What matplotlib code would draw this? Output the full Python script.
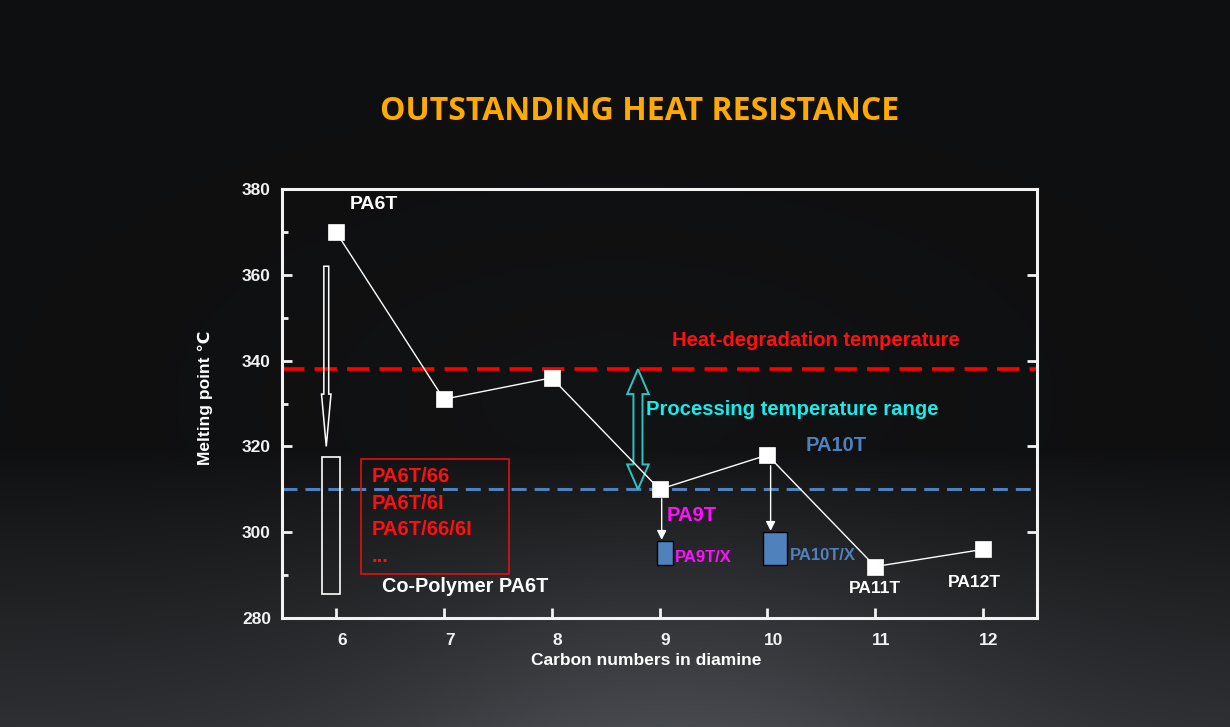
import numpy as np
import matplotlib
matplotlib.use("Agg")
import matplotlib.pyplot as plt
import matplotlib.transforms as mtransforms
from matplotlib.patches import Rectangle, Polygon, FancyArrow

plt.rcParams['font.family'] = ['Liberation Sans', 'DejaVu Sans']

# ---------- data ----------
carbons = [6, 7, 8, 9, 10, 11, 12]
melting = [370, 331, 336, 310, 318, 292, 296]
heat_degradation = 338
processing_low = 310

copolymer_names = ['PA6T/66', 'PA6T/6I', 'PA6T/66/6I', '...']
copolymer_range = (285.5, 317.5)      # co-polymer PA6T melting range
pa6t_drop = (362, 320)                # hollow arrow PA6T -> co-polymers

# modified grades (x, low, high)
pa9tx = (9.05, 292.4, 298.0)
pa10tx = (10.07, 292.4, 300.0)

# ---------- figure + background ----------
fig = plt.figure(figsize=(12.3, 7.27), dpi=100)

H, W = 727, 1230
yy, xx = np.mgrid[0:1:H * 1j, 0:1:W * 1j]
v = 0.058 + 0.012 * np.exp(-((xx - 0.5) / 0.3) ** 2) * np.exp(-((yy - 0.55) / 0.25) ** 2)
floor = np.clip((yy - 0.62) / 0.38, 0, 1)
v += floor ** 0.9 * (0.12 + 0.10 * np.exp(-((xx - 0.55) / 0.25) ** 2))
rgb = np.clip(np.dstack([v, v * 1.03, v * 1.1]), 0, 1)
bg = fig.add_axes([0, 0, 1, 1], zorder=-1)
bg.imshow(rgb, aspect='auto', extent=[0, 1, 0, 1])
bg.axis('off')

fig.text(0.52, 0.847, 'OUTSTANDING HEAT RESISTANCE', color='#ffaa00',
         fontsize=23, fontweight='bold', family=['Open Sans', 'DejaVu Sans'],
         ha='center', va='center')

# ---------- main axes ----------
ax = fig.add_axes([0.2293, 0.1499, 0.6138, 0.5901])
ax.set_facecolor('none')
ax.set_xlim(5.5, 12.5)
ax.set_ylim(280, 380)

for s in ax.spines.values():
    s.set_color('#f2f2f2')
    s.set_linewidth(2.2)

ax.set_xticks(carbons)
ax.set_yticks(range(280, 381, 20))
ax.set_yticks(range(290, 380, 20), minor=True)
ax.tick_params(axis='y', which='major', direction='in', right=True, colors='#f2f2f2',
               width=2, length=7, labelsize=12.5, pad=8)
ax.tick_params(axis='y', which='minor', direction='in', left=True, right=False,
               colors='#f2f2f2', width=2, length=4)
ax.tick_params(axis='x', direction='in', length=7, width=2, colors='#f2f2f2', labelsize=12.5, pad=11)
shift = mtransforms.ScaledTranslation(0.06, 0, fig.dpi_scale_trans)
for lab in ax.get_xticklabels():
    lab.set_fontweight('bold')
    lab.set_transform(lab.get_transform() + shift)
for lab in ax.get_yticklabels():
    lab.set_fontweight('bold')

ax.text(0.482, -0.1, 'Carbon numbers in diamine', transform=ax.transAxes, color='white',
        fontsize=12.5, fontweight='bold', ha='center', va='center')
ax.text(-0.102, 0.513, 'Melting point ℃', transform=ax.transAxes, color='white',
        fontsize=12.5, fontweight='bold', ha='center', va='center', rotation=90)

# reference lines
ax.axhline(heat_degradation, color='#ff0000', lw=2.6, dashes=(6.2, 2.8), zorder=2)
ax.axhline(processing_low, color='#4f81bd', lw=2.2, dashes=(4.9, 2.6), zorder=2)

# main series
ax.plot(carbons, melting, color='white', lw=1.0, marker='s', ms=11.5,
        mfc='white', mec='white', mew=0.5, zorder=5)

# co-polymer PA6T
ax.add_patch(FancyArrow(5.91, pa6t_drop[0], 0, pa6t_drop[1] - pa6t_drop[0],
                        width=0.045, head_width=0.088, head_length=12.2,
                        length_includes_head=True, fill=False, ec='white', lw=1.1, zorder=4))
ax.add_patch(Rectangle((5.873, copolymer_range[0]), 0.164, copolymer_range[1] - copolymer_range[0],
                       fill=False, ec='white', lw=1.2, zorder=4))
ax.add_patch(Rectangle((6.229, 290.3), 1.376, 26.8, fill=False, ec='#e01010', lw=1.2, zorder=4))
for i, name in enumerate(copolymer_names):
    ax.text(6.33, 313.0 - 6.2 * i, name, color='#ff1010', fontsize=14.5, fontweight='bold',
            ha='left', va='center', zorder=6)
ax.text(6.43, 287.3, 'Co-Polymer PA6T', color='white', fontsize=14.3, fontweight='bold',
        ha='left', va='center', zorder=6)

# processing range double arrow
x0, hs, hh, hl = 8.80, 0.042, 0.1, 5.8
ylo, yhi = processing_low, heat_degradation
pts = [(x0, yhi), (x0 + hh, yhi - hl), (x0 + hs, yhi - hl), (x0 + hs, ylo + hl),
       (x0 + hh, ylo + hl), (x0, ylo), (x0 - hh, ylo + hl), (x0 - hs, ylo + hl),
       (x0 - hs, yhi - hl), (x0 - hh, yhi - hl)]
ax.add_patch(Polygon(pts, closed=True, fill=False, ec='#2ec4c4', lw=1.4, zorder=4))

# modified grades
for (bx, lo, hi), w in [(pa9tx, 0.144), (pa10tx, 0.227)]:
    ax.add_patch(Rectangle((bx - w / 2, lo), w, hi - lo, fc='#4f81bd', ec='black', lw=1.0, zorder=4))
ax.annotate('', xy=(9.02, 298.2), xytext=(9.02, 307.8),
            arrowprops=dict(arrowstyle='-|>', color='white', lw=1.0, mutation_scale=14,
                            shrinkA=0, shrinkB=0), zorder=4)
ax.annotate('', xy=(10.03, 300.3), xytext=(10.03, 315.5),
            arrowprops=dict(arrowstyle='-|>', color='white', lw=1.0, mutation_scale=14,
                            shrinkA=0, shrinkB=0), zorder=4)

# labels
ax.text(6.13, 376.3, 'PA6T', color='white', fontsize=14, fontweight='bold', ha='left', va='center')
ax.text(9.12, 344.8, 'Heat-degradation temperature', color='#ff1010', fontsize=14.5,
        fontweight='bold', ha='left', va='center')
ax.text(8.87, 328.5, 'Processing temperature range', color='#19eaea', fontsize=14.6,
        fontweight='bold', ha='left', va='center')
ax.text(10.35, 320.1, 'PA10T', color='#4f81bd', fontsize=14.5, fontweight='bold', ha='left', va='center')
ax.text(9.07, 303.8, 'PA9T', color='#ff10ff', fontsize=14.5, fontweight='bold', ha='left', va='center')
ax.text(9.14, 294.1, 'PA9T/X', color='#ff10ff', fontsize=12, fontweight='bold', ha='left', va='center')
ax.text(10.21, 294.5, 'PA10T/X', color='#4f81bd', fontsize=12, fontweight='bold', ha='left', va='center')
ax.text(11.0, 286.8, 'PA11T', color='white', fontsize=12.5, fontweight='bold', ha='center', va='center')
ax.text(11.92, 288.3, 'PA12T', color='white', fontsize=12.5, fontweight='bold', ha='center', va='center')

fig.savefig('out.png', dpi=100)
